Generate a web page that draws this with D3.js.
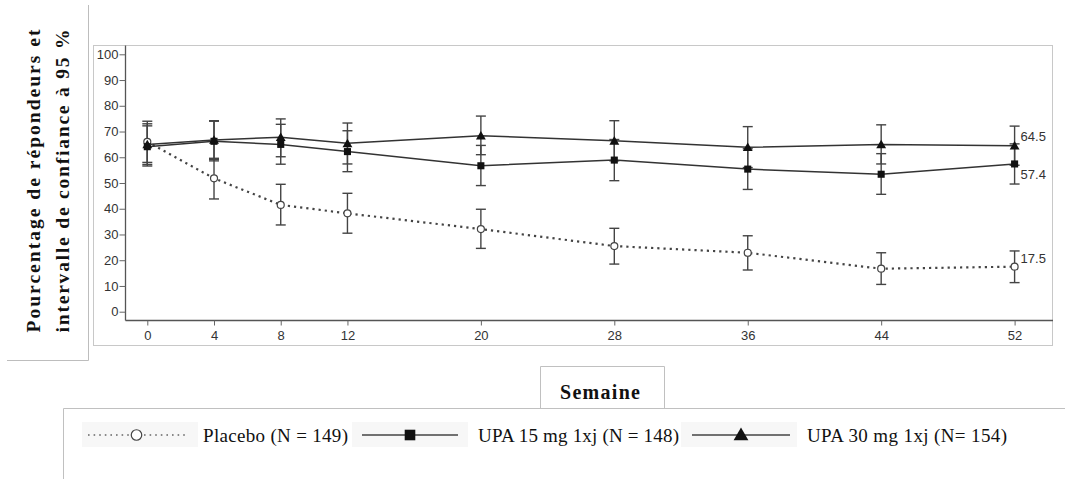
<!DOCTYPE html>
<html>
<head>
<meta charset="utf-8">
<script src="https://cdn.jsdelivr.net/npm/d3@7"></script>
<style>
  body { margin: 0; background: #fff; }
  svg { display: block; }
</style>
</head>
<body>
<svg id="chart" width="1065" height="479"></svg>
<script>
// weeks on the x axis
const weeks = [0, 4, 8, 12, 20, 28, 36, 44, 52];
const yTicks = [0, 10, 20, 30, 40, 50, 60, 70, 80, 90, 100];

// placebo: estimate, lower CI, upper CI
const placeboVal = [66.0, 51.8, 41.5, 38.2, 32.1, 25.5, 22.9, 16.7, 17.5];
const placeboLo  = [58.0, 43.8, 33.7, 30.5, 24.6, 18.5, 16.2, 10.6, 11.3];
const placeboHi  = [74.0, 59.6, 49.5, 46.0, 39.8, 32.4, 29.5, 22.9, 23.6];

// UPA 15 mg
const upa15Val = [64.1, 66.2, 65.0, 62.2, 56.7, 58.9, 55.4, 53.4, 57.4];
const upa15Lo  = [56.6, 58.6, 57.3, 54.4, 49.0, 50.9, 47.5, 45.6, 49.6];
const upa15Hi  = [72.2, 74.0, 72.8, 70.3, 64.6, 66.9, 63.3, 61.4, 65.2];

// UPA 30 mg
const upa30Val = [65.0, 66.7, 67.8, 65.4, 68.4, 66.4, 63.9, 65.0, 64.5];
const upa30Lo  = [57.2, 59.2, 60.2, 57.4, 61.0, 58.6, 56.0, 57.4, 56.9];
const upa30Hi  = [73.0, 74.2, 74.9, 73.3, 76.0, 74.2, 71.9, 72.6, 72.1];

const endLabels = ["17.5", "57.4", "64.5"];
const legendLabels = ["Placebo (N = 149)", "UPA 15 mg 1xj (N = 148)", "UPA 30 mg 1xj (N= 154)"];

const svg = d3.select("#chart");
const sans = "'Liberation Sans', Arial, sans-serif";
const serif = "'Liberation Serif', 'Times New Roman', serif";

const x = d3.scaleLinear().domain([0, 52]).range([147.3, 1014.6]);
const y = d3.scaleLinear().domain([0, 100]).range([311.7, 54.3]);

// outer frame of the plot
svg.append("rect")
  .attr("x", 93.5).attr("y", 45.5).attr("width", 959).attr("height", 300)
  .attr("fill", "none").attr("stroke", "#c8c8c8").attr("stroke-width", 1);

// box around y label
svg.append("path")
  .attr("d", "M88.5,5 V360.5 H7")
  .attr("fill", "none").attr("stroke", "#bdbdbd");

// axes
const yAxis = svg.append("g")
  .attr("transform", "translate(125.5,0)")
  .call(d3.axisLeft(y).tickValues(yTicks).tickSize(6).tickSizeOuter(0));
yAxis.select(".domain").attr("d", "M0,45.5 V320.5");
const xAxis = svg.append("g")
  .attr("transform", "translate(0,320.5)")
  .call(d3.axisBottom(x).tickValues(weeks).tickSize(5).tickSizeOuter(0));
xAxis.select(".domain").attr("d", "M125.5,0 H1053");

svg.selectAll(".tick text")
  .attr("font-family", sans).attr("font-size", 13).attr("fill", "#333");
svg.selectAll(".domain").attr("stroke", "#555").attr("stroke-width", 1.3);
svg.selectAll(".tick line").attr("stroke", "#666");
xAxis.selectAll(".tick text").attr("dy", "0.85em");
yAxis.selectAll(".tick text").attr("x", -7);

const series = [
  { val: placeboVal, lo: placeboLo, hi: placeboHi, dash: "2.2,4", marker: "circle" },
  { val: upa15Val, lo: upa15Lo, hi: upa15Hi, dash: null, marker: "square" },
  { val: upa30Val, lo: upa30Lo, hi: upa30Hi, dash: null, marker: "triangle" }
];

const line = d3.line().x(d => x(d[0])).y(d => y(d[1]));

// error bars first
series.forEach(s => {
  const g = svg.append("g");
  weeks.forEach((w, i) => {
    const cx = x(w);
    g.append("line").attr("x1", cx).attr("x2", cx).attr("y1", y(s.lo[i])).attr("y2", y(s.hi[i]))
      .attr("stroke", "#444").attr("stroke-width", 1.4);
    [s.lo[i], s.hi[i]].forEach(v => {
      g.append("line").attr("x1", cx - 5).attr("x2", cx + 5).attr("y1", y(v)).attr("y2", y(v))
        .attr("stroke", "#444").attr("stroke-width", 1.4);
    });
  });
});

function drawMarker(g, type, cx, cy, big) {
  const k = big ? 1.5 : 1;
  if (type === "circle") {
    g.append("circle").attr("cx", cx).attr("cy", cy).attr("r", 3.5 * k)
      .attr("fill", "#fff").attr("stroke", "#444").attr("stroke-width", 1.2);
  } else if (type === "square") {
    g.append("path").attr("d", d3.symbol(d3.symbolSquare, 50 * k * k)())
      .attr("transform", `translate(${cx},${cy})`).attr("fill", "#111");
  } else {
    g.append("path").attr("d", d3.symbol(d3.symbolTriangle, 42 * k * k)())
      .attr("transform", `translate(${cx},${cy + 1})`).attr("fill", "#111");
  }
}

// lines and markers
series.forEach(s => {
  const pts = weeks.map((w, i) => [w, s.val[i]]);
  svg.append("path").datum(pts).attr("d", line)
    .attr("fill", "none")
    .attr("stroke", s.dash ? "#444" : "#333")
    .attr("stroke-width", s.dash ? 2.2 : 1.5)
    .attr("stroke-dasharray", s.dash);
  const g = svg.append("g");
  pts.forEach(p => drawMarker(g, s.marker, x(p[0]), y(p[1]), false));
});

// end value labels
const labelShift = [-8, 10, -9];
[0, 1, 2].forEach(i => {
  const s = series[i];
  svg.append("text")
    .attr("x", x(52) + 6).attr("y", y(s.val[8]) + labelShift[i])
    .attr("dy", "0.35em")
    .attr("font-family", sans).attr("font-size", 13).attr("fill", "#333")
    .text(endLabels[i]);
});

// y axis title, two justified rotated lines
const yTitle = ["Pourcentage de répondeurs et", "intervalle de confiance à 95 %"];
yTitle.forEach((t, i) => {
  svg.append("text")
    .attr("transform", `translate(${40 + i * 29},181) rotate(-90)`)
    .attr("text-anchor", "middle")
    .attr("font-family", serif).attr("font-weight", "bold").attr("font-size", 19.5)
    .attr("textLength", 303).attr("lengthAdjust", "spacing")
    .attr("fill", "#111")
    .text(t);
});

// "Semaine" tab and legend box
svg.append("path")
  .attr("d", "M540.5,408.5 V366.5 H664.5 V408.5")
  .attr("fill", "none").attr("stroke", "#c0c0c0");
svg.append("text")
  .attr("x", 600).attr("y", 399)
  .attr("text-anchor", "middle")
  .attr("font-family", serif).attr("font-weight", "bold").attr("font-size", 20)
  .attr("textLength", 80).attr("lengthAdjust", "spacing")
  .attr("fill", "#111")
  .text("Semaine");
svg.append("path")
  .attr("d", "M63.5,479 V408.5 H1065")
  .attr("fill", "none").attr("stroke", "#c0c0c0");

const legendSym = [
  { x0: 82, x1: 198, lx0: 88, lx1: 185 },
  { x0: 352, x1: 468, lx0: 362, lx1: 458 },
  { x0: 681, x1: 797, lx0: 692, lx1: 790 }
];
const legendText = [
  { x: 203, w: 145 },
  { x: 478, w: 201 },
  { x: 807, w: 200 }
];
const ly = 435;
legendSym.forEach((p, i) => {
  const g = svg.append("g");
  g.append("rect").attr("x", p.x0).attr("y", ly - 13).attr("width", p.x1 - p.x0).attr("height", 25)
    .attr("fill", "#f7f7f7");
  g.append("line").attr("x1", p.lx0).attr("x2", p.lx1).attr("y1", ly).attr("y2", ly)
    .attr("stroke", i === 0 ? "#666" : "#444")
    .attr("stroke-width", i === 0 ? 1.6 : 1.3)
    .attr("stroke-dasharray", i === 0 ? "1.6,4" : null);
  drawMarker(g, series[i].marker, (p.lx0 + p.lx1) / 2, ly, true);
  svg.append("text")
    .attr("x", legendText[i].x).attr("y", ly).attr("dy", "0.35em")
    .attr("font-family", serif).attr("font-size", 19).attr("fill", "#111")
    .attr("textLength", legendText[i].w).attr("lengthAdjust", "spacing")
    .text(legendLabels[i]);
});
</script>
</body>
</html>
